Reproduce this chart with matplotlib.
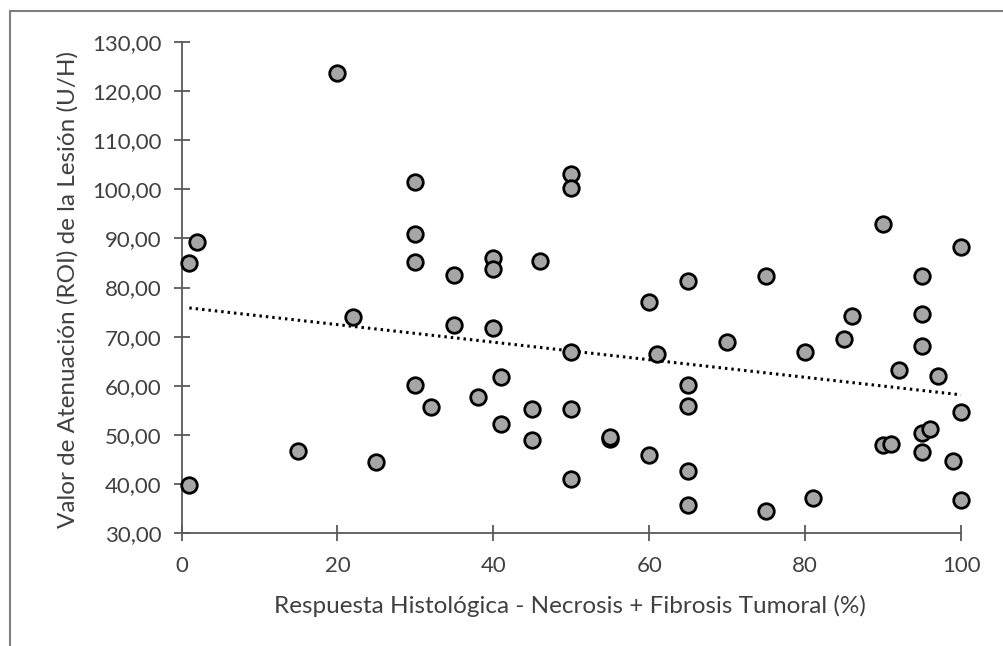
import numpy as np
import matplotlib.pyplot as plt
from matplotlib.ticker import FuncFormatter, MultipleLocator
from matplotlib.patches import Rectangle

plt.rcParams['font.family'] = ['Lato', 'DejaVu Sans']

# respuesta histologica (%) y atenuacion de la lesion (U/H)
respuesta = [1, 2, 1, 15, 20, 22, 25,
             30, 30, 30, 30, 32, 35, 35, 38,
             40, 40, 40, 41, 41, 45, 45, 46,
             50, 50, 50, 50, 50, 55, 55, 60, 60, 61,
             65, 65, 65, 65, 65, 70, 75, 75,
             80, 81, 85, 86, 90, 90, 91, 92,
             95, 95, 95, 95, 95, 96, 97, 99, 100, 100, 100]
atenuacion = [85.0, 89.2, 39.8, 46.8, 123.6, 74.0, 44.5,
              101.4, 90.9, 85.1, 60.1, 55.7, 82.6, 72.4, 57.8,
              86.1, 83.7, 71.7, 61.7, 52.3, 55.2, 48.9, 85.3,
              103.1, 100.3, 66.9, 55.2, 41.0, 49.2, 49.5, 77.1, 45.9, 66.4,
              81.3, 60.1, 55.9, 42.7, 35.7, 69.0, 82.3, 34.5,
              66.9, 37.2, 69.5, 74.2, 92.9, 47.9, 48.1, 63.3,
              82.3, 74.7, 68.1, 50.4, 46.6, 51.2, 62.0, 44.7, 88.3, 54.7, 36.7]

x = np.array(respuesta, dtype=float)
y = np.array(atenuacion)

fig = plt.figure(figsize=(10.04, 6.46), dpi=100)
ax = fig.add_axes([0.1808, 0.1749, 0.7764, 0.7601])

# linear trend line over the data range
m, b = np.polyfit(x, y, 1)
xt = np.array([x.min(), x.max()])
ax.plot(xt, m * xt + b, color='black', linewidth=2.2,
        linestyle=(0, (0.8, 1.3)), zorder=2)

ax.scatter(x, y, s=125, facecolor='#a6a6a6', edgecolor='black',
           linewidth=2.0, zorder=3, clip_on=False)

ax.set_xlim(0, 100)
ax.set_ylim(30, 130)
ax.xaxis.set_major_locator(MultipleLocator(20))
ax.yaxis.set_major_locator(MultipleLocator(10))
ax.yaxis.set_major_formatter(FuncFormatter(lambda v, p: f"{v:.2f}".replace('.', ',')))

for s in ['top', 'right']:
    ax.spines[s].set_visible(False)
for s in ['left', 'bottom']:
    ax.spines[s].set_color('#595959')
    ax.spines[s].set_linewidth(1.3)
ax.tick_params(direction='inout', length=11, width=1.3, color='#595959',
               labelsize=16, labelcolor='#404040')
ax.tick_params(axis='y', pad=9)
ax.tick_params(axis='x', pad=11)

ax.set_xlabel('Respuesta Histológica - Necrosis + Fibrosis Tumoral (%)',
              fontsize=17.5, color='#404040', va='center')
ax.set_ylabel('Valor de Atenuación (ROI) de la Lesión (U/H)',
              fontsize=17.5, color='#404040', va='center')
ax.xaxis.set_label_coords(0.498, -0.149)
ax.yaxis.set_label_coords(-0.1456, 0.495)

# chart frame
fig.patches.append(Rectangle((10 / 1004, -0.1), 1.2, (646 - 11) / 646 + 0.1,
                             transform=fig.transFigure, fill=False,
                             edgecolor='#7f7f7f', linewidth=1.5))

fig.savefig('out.png', dpi=100)
